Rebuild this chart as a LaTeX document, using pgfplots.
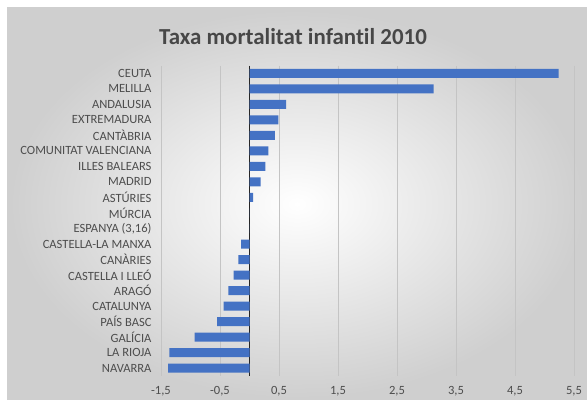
\documentclass[border=0pt]{standalone}
\usepackage{pgfplots}
\pgfplotsset{compat=1.18}
\usepackage{fontspec}
\setmainfont[Ligatures=NoCommon]{Carlito}
\definecolor{barblue}{HTML}{4472C4}
\definecolor{lblgray}{HTML}{4D4D4D}
\definecolor{gridgray}{HTML}{C4C4C4}
\begin{document}
\begin{tikzpicture}
\path[use as bounding box] (0bp,0bp) rectangle (587bp,400bp);
\fill[white] (0bp,0bp) rectangle (587bp,400bp);
\shade[inner color=white, outer color=black!19] (7bp,0bp) rectangle (587bp,392bp);
\node[font=\fontsize{23}{26}\selectfont\bfseries, text=black!72] at (293bp,363bp) {Taxa mortalitat infantil 2010};
\begin{axis}[
  at={(161bp,24bp)}, anchor=south west,
  scale only axis, width=413bp, height=310.5bp,
  xbar, bar width=9bp, bar shift=0pt,
  xmin=-1.5, xmax=5.5,
  ymin=-0.5, ymax=19.5, y dir=reverse,
  axis line style={draw=none},
  major tick length=0pt,
  xtick={-1.5,-0.5,0.5,1.5,2.5,3.5,4.5,5.5},
  xticklabels={-1{,}5,-0{,}5,0{,}5,1{,}5,2{,}5,3{,}5,4{,}5,5{,}5},
  xmajorgrids, grid style={gridgray, line width=0.8pt},
  extra x ticks={0}, extra x tick labels={},
  extra x tick style={grid style={black!85, line width=1.3pt}},
  ytick={0,...,19},
  yticklabels={CEUTA,MELILLA,ANDALUSIA,EXTREMADURA,CANTÀBRIA,COMUNITAT VALENCIANA,ILLES BALEARS,MADRID,ASTÚRIES,MÚRCIA,{ESPANYA (3,16)},CASTELLA-LA MANXA,CANÀRIES,CASTELLA I LLEÓ,ARAGÓ,CATALUNYA,PAÍS BASC,GALÍCIA,LA RIOJA,NAVARRA},
  ticklabel style={font=\fontsize{12.6}{14}\selectfont, text=lblgray},
  yticklabel style={anchor=east, xshift=-6bp},
  xticklabel style={yshift=-7bp},
]
\addplot[fill=barblue, draw=none] coordinates {
(5.24,0) (3.12,1) (0.62,2) (0.49,3) (0.43,4) (0.32,5) (0.27,6) (0.19,7) (0.06,8) (0.0,9) (0.0,10) (-0.14,11) (-0.19,12) (-0.27,13) (-0.36,14) (-0.44,15) (-0.55,16) (-0.93,17) (-1.36,18) (-1.38,19)
};
\end{axis}
\end{tikzpicture}
\end{document}
